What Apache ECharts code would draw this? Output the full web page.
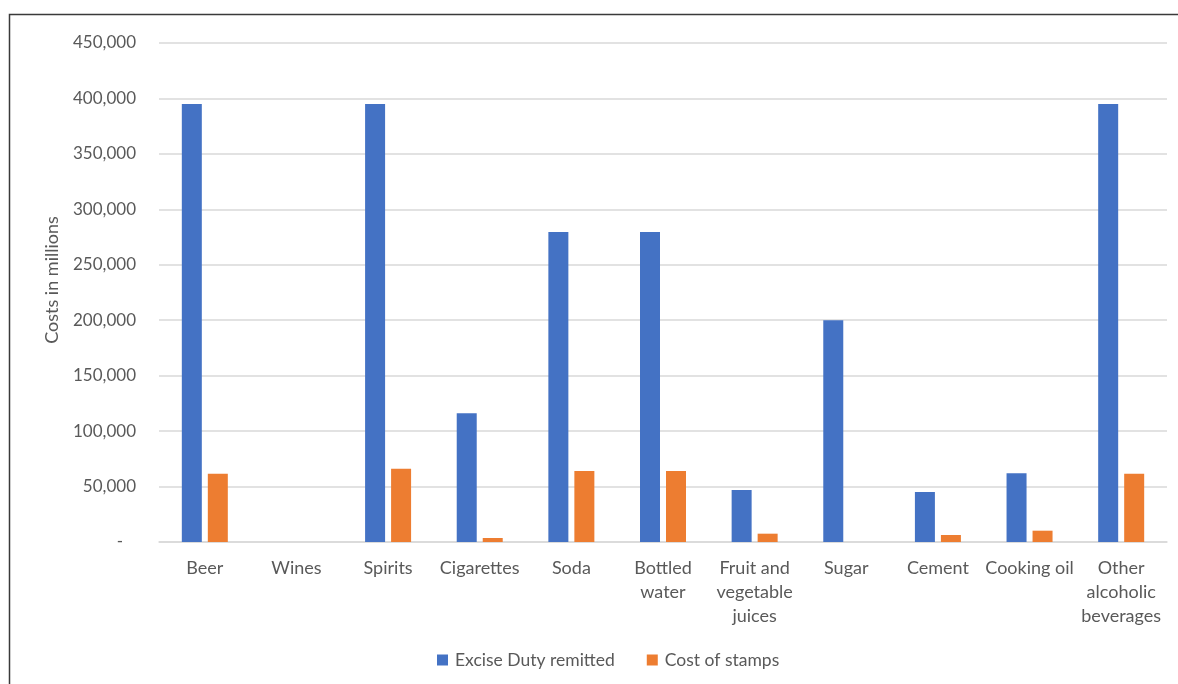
<!DOCTYPE html>
<html><head><meta charset="utf-8">
<script src="https://cdn.jsdelivr.net/npm/echarts@6/dist/echarts.min.js"></script>
<style>html,body{margin:0;padding:0;background:#fff}#c{width:1178px;height:684px}</style>
</head><body><div id="c"></div>
<script>
const categories = ['Beer','Wines','Spirits','Cigarettes','Soda','Bottled\nwater','Fruit and\nvegetable\njuices','Sugar','Cement','Cooking oil','Other\nalcoholic\nbeverages'];
const exciseDuty = [395000, null, 395000, 116000, 279500, 279500, 47000, 200000, 45000, 62000, 395000];
const stampCost = [61500, null, 66000, 3600, 64000, 64000, 7500, null, 6300, 10200, 61500];
const seriesNames = ['Excise Duty remitted','Cost of stamps'];
const yTitle = 'Costs in millions';
const yTicks = {min:0, max:450000, interval:50000};

const font = 'Lato, "Open Sans", sans-serif';
const chart = echarts.init(document.getElementById('c'));
chart.setOption({
  animation:false,
  textStyle:{fontFamily:font},
  graphic:[
    {type:'rect',shape:{x:9.5,y:14.5,width:1300,height:800},style:{fill:null,stroke:'#3a3a3a',lineWidth:1.5},silent:true},
    {type:'text',x:52,y:280,rotation:Math.PI/2,style:{text:yTitle,fontSize:18,fill:'#595959',fontFamily:font,align:'center',verticalAlign:'middle'},silent:true}
  ],
  grid:{left:159,right:11,top:43,bottom:142,containLabel:false},
  legend:{data:seriesNames,left:432,top:646,itemWidth:11,itemHeight:11,itemGap:32,icon:'rect',
    textStyle:{fontSize:17.5,color:'#595959',fontFamily:font,padding:[0,0,0,2]}},
  xAxis:{type:'category',data:categories,
    axisLine:{lineStyle:{color:'#d9d9d9',width:1.5}},axisTick:{show:false},
    axisLabel:{interval:0,fontSize:18,color:'#595959',lineHeight:24,margin:14,fontFamily:font}},
  yAxis:{type:'value',min:yTicks.min,max:yTicks.max,interval:yTicks.interval,
    axisLine:{show:false},axisTick:{show:false},
    splitLine:{lineStyle:{color:'#d9d9d9',width:1.5}},
    axisLabel:{fontSize:17,color:'#595959',margin:23,fontFamily:font,
      formatter:v=>v===0?'-   ':v.toLocaleString('en-US')}},
  series:[
    {name:seriesNames[0],type:'bar',data:exciseDuty,barWidth:20,barGap:'30%',itemStyle:{color:'#4472C4'}},
    {name:seriesNames[1],type:'bar',data:stampCost,barWidth:20,itemStyle:{color:'#ED7D31'}}
  ]
});
</script></body></html>
